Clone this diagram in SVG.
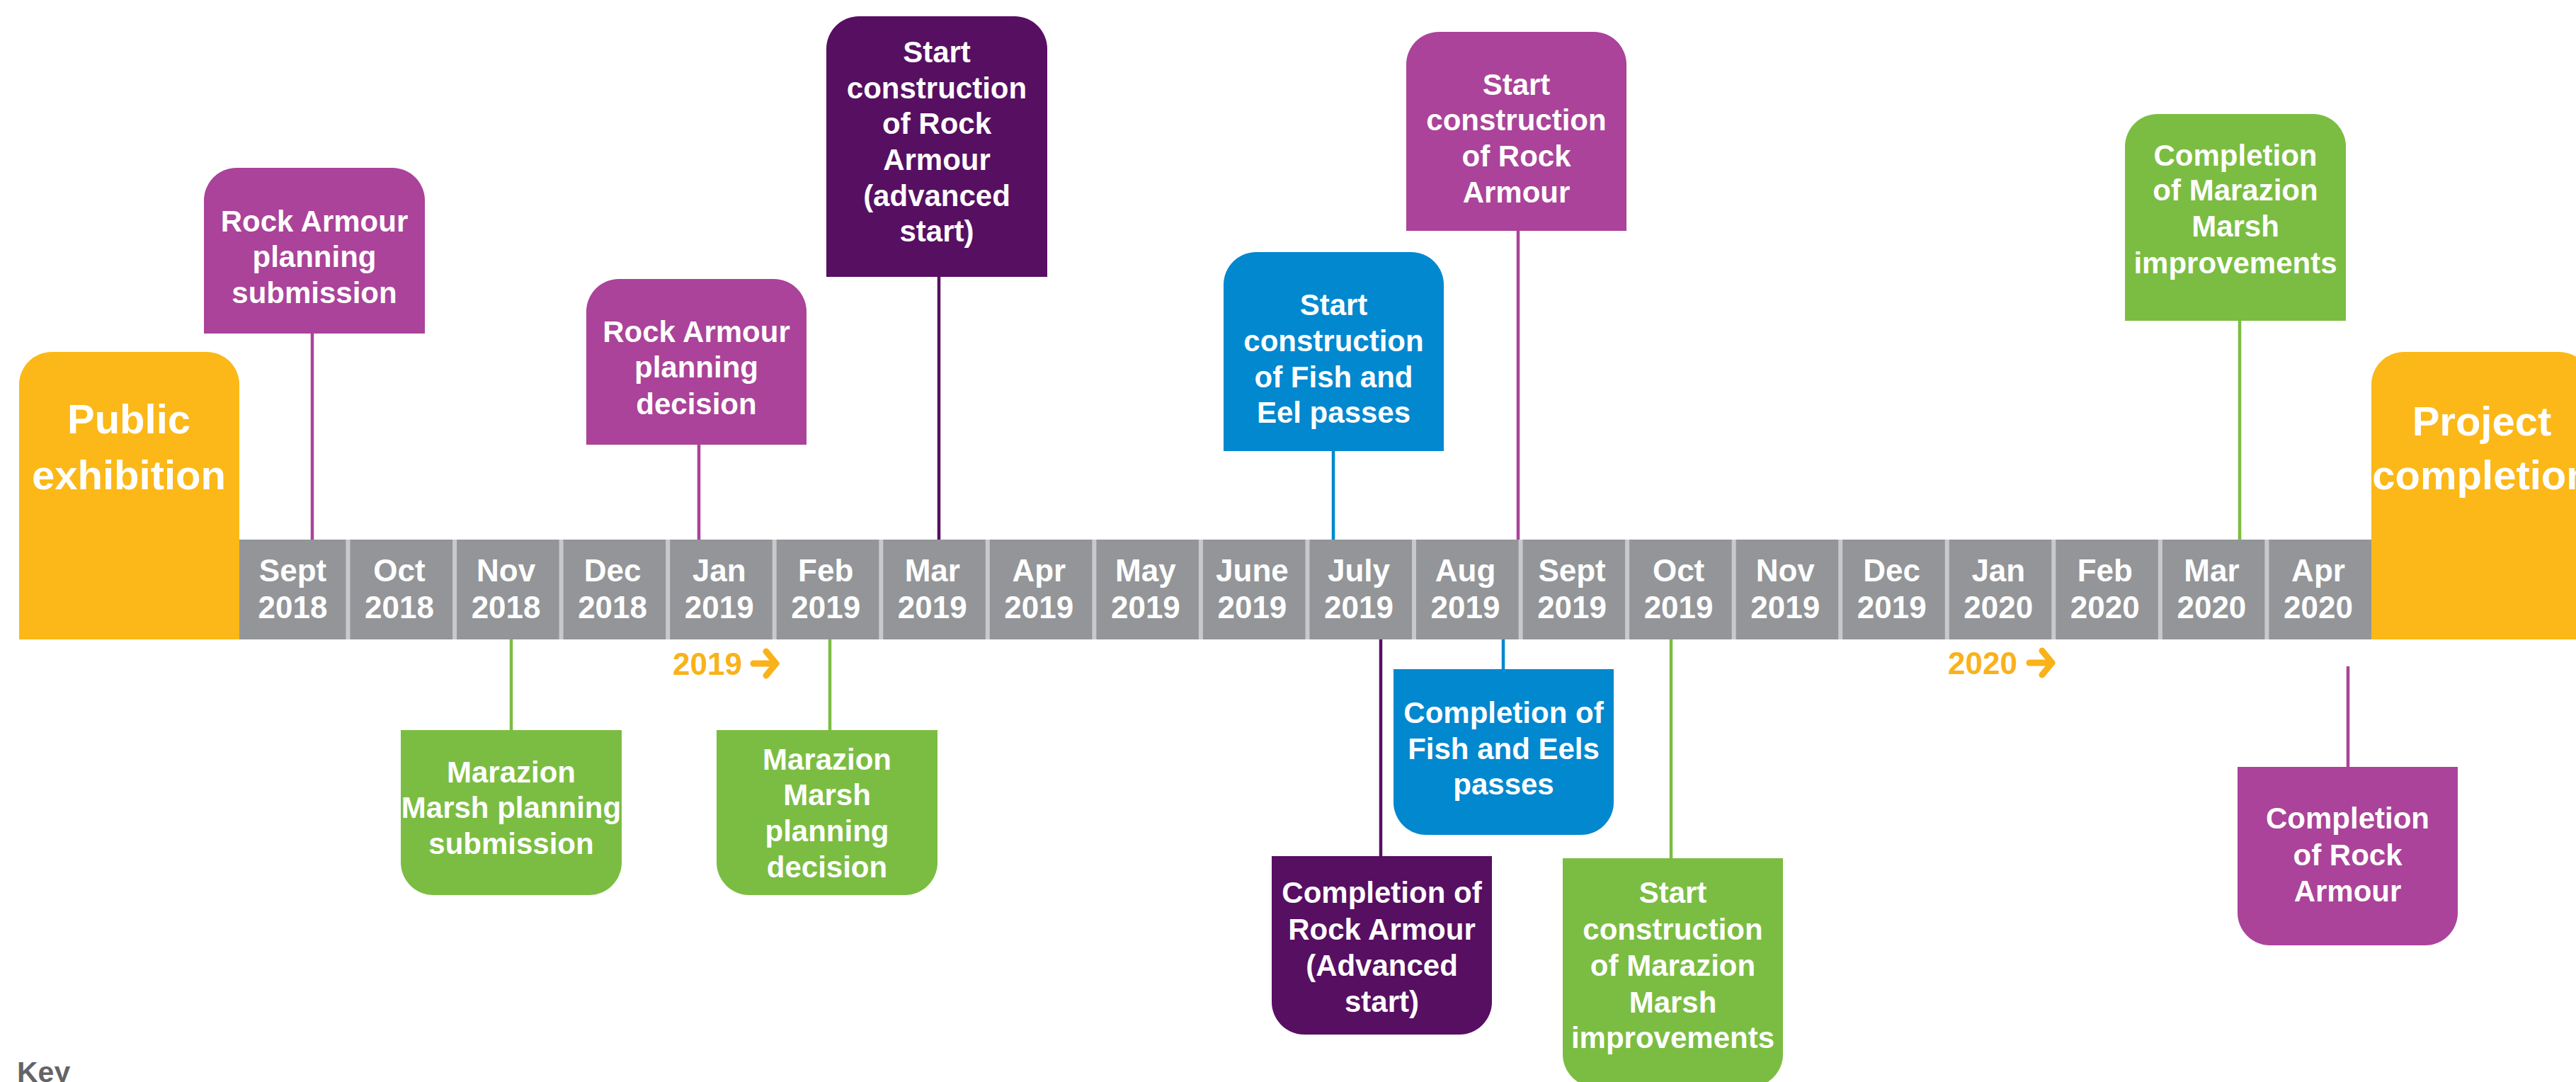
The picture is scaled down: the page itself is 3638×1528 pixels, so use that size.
<svg xmlns="http://www.w3.org/2000/svg" width="3638" height="1528" viewBox="0 0 3638 1528">
<style>
.t{font-family:"Liberation Sans",Arial,sans-serif;font-weight:bold;fill:#fff;text-anchor:middle;font-size:42px}
.big{font-size:58px}
.m{font-size:44px}
.yr{font-family:"Liberation Sans",Arial,sans-serif;font-weight:bold;fill:#F9B21A;font-size:44px}
.key{font-family:"Liberation Sans",Arial,sans-serif;font-weight:bold;fill:#646466;font-size:41px}
.yel{fill:#FBB818}.pink{fill:#AA4399}.dp{fill:#570F62}.blue{fill:#0288CF}.grn{fill:#7BBD42}
.c{stroke-width:4.5;fill:none}
.cp{stroke:#AA4399}.cd{stroke:#570F62}.cb{stroke:#0288CF}.cg{stroke:#7BBD42}
.arr{fill:none;stroke:#F9B21A;stroke-width:9;stroke-linecap:round;stroke-linejoin:round}
</style>
<rect width="3638" height="1528" fill="#fff"/>

<g id="connectors">
<line class="c cp" x1="441" y1="471" x2="441" y2="762"/>
<line class="c cp" x1="987" y1="628" x2="987" y2="762"/>
<line class="c cd" x1="1326" y1="391" x2="1326" y2="762"/>
<line class="c cb" x1="1883" y1="637" x2="1883" y2="762"/>
<line class="c cp" x1="2144" y1="326" x2="2144" y2="762"/>
<line class="c cg" x1="3163" y1="453" x2="3163" y2="762"/>
<line class="c cg" x1="722" y1="903" x2="722" y2="1031"/>
<line class="c cg" x1="1172" y1="903" x2="1172" y2="1031"/>
<line class="c cd" x1="1950" y1="903" x2="1950" y2="1209"/>
<line class="c cb" x1="2123" y1="903" x2="2123" y2="945"/>
<line class="c cg" x1="2360" y1="903" x2="2360" y2="1212"/>
<line class="c cp" x1="3316" y1="941" x2="3316" y2="1083"/>
</g>

<g id="timeline">
<rect x="338" y="762" width="3011" height="141" fill="#939598"/>
<g fill="#C8C9CB">
<rect x="488.5" y="762" width="6" height="141"/>
<rect x="639.1" y="762" width="6" height="141"/>
<rect x="789.6" y="762" width="6" height="141"/>
<rect x="940.2" y="762" width="6" height="141"/>
<rect x="1090.7" y="762" width="6" height="141"/>
<rect x="1241.3" y="762" width="6" height="141"/>
<rect x="1391.8" y="762" width="6" height="141"/>
<rect x="1542.4" y="762" width="6" height="141"/>
<rect x="1692.9" y="762" width="6" height="141"/>
<rect x="1843.5" y="762" width="6" height="141"/>
<rect x="1994" y="762" width="6" height="141"/>
<rect x="2144.6" y="762" width="6" height="141"/>
<rect x="2295.1" y="762" width="6" height="141"/>
<rect x="2445.7" y="762" width="6" height="141"/>
<rect x="2596.2" y="762" width="6" height="141"/>
<rect x="2746.8" y="762" width="6" height="141"/>
<rect x="2897.3" y="762" width="6" height="141"/>
<rect x="3047.9" y="762" width="6" height="141"/>
<rect x="3198.4" y="762" width="6" height="141"/>
</g>
<g class="t m">
<text x="413.5" y="821">Sept</text><text x="413.5" y="873">2018</text>
<text x="564" y="821">Oct</text><text x="564" y="873">2018</text>
<text x="714.6" y="821">Nov</text><text x="714.6" y="873">2018</text>
<text x="865.1" y="821">Dec</text><text x="865.1" y="873">2018</text>
<text x="1015.7" y="821">Jan</text><text x="1015.7" y="873">2019</text>
<text x="1166.2" y="821">Feb</text><text x="1166.2" y="873">2019</text>
<text x="1316.8" y="821">Mar</text><text x="1316.8" y="873">2019</text>
<text x="1467.3" y="821">Apr</text><text x="1467.3" y="873">2019</text>
<text x="1617.9" y="821">May</text><text x="1617.9" y="873">2019</text>
<text x="1768.4" y="821">June</text><text x="1768.4" y="873">2019</text>
<text x="1919" y="821">July</text><text x="1919" y="873">2019</text>
<text x="2069.5" y="821">Aug</text><text x="2069.5" y="873">2019</text>
<text x="2220.1" y="821">Sept</text><text x="2220.1" y="873">2019</text>
<text x="2370.6" y="821">Oct</text><text x="2370.6" y="873">2019</text>
<text x="2521.2" y="821">Nov</text><text x="2521.2" y="873">2019</text>
<text x="2671.7" y="821">Dec</text><text x="2671.7" y="873">2019</text>
<text x="2822.3" y="821">Jan</text><text x="2822.3" y="873">2020</text>
<text x="2972.8" y="821">Feb</text><text x="2972.8" y="873">2020</text>
<text x="3123.4" y="821">Mar</text><text x="3123.4" y="873">2020</text>
<text x="3274" y="821">Apr</text><text x="3274" y="873">2020</text>
</g>
</g>

<g id="year2019">
<text class="yr" x="950" y="953">2019</text>
<path class="arr" d="M1064,937 H1096 M1082,920 L1096,937 L1082,954"/>
</g>
<g id="year2020">
<text class="yr" x="2751" y="952">2020</text>
<path class="arr" d="M2866,936 H2898 M2884,919 L2898,936 L2884,953"/>
</g>

<g id="public-exhibition">
<path class="yel" d="M27,903 V543 A46,46 0 0 1 73,497 H292 A46,46 0 0 1 338,543 V903 Z"/>
<text class="t big" x="182" y="612">Public</text>
<text class="t big" x="182" y="691">exhibition</text>
</g>

<g id="project-completion">
<path class="yel" d="M3349,903 V543 A46,46 0 0 1 3395,497 H3614 A46,46 0 0 1 3660,543 V903 Z"/>
<text class="t big" x="3505" y="615">Project</text>
<text class="t big" x="3505" y="691">completion</text>
</g>

<g id="ra-planning-submission">
<path class="pink" d="M288,471 V283 A46,46 0 0 1 334,237 H554 A46,46 0 0 1 600,283 V471 Z"/>
<text class="t" x="444" y="327">Rock Armour</text>
<text class="t" x="444" y="377">planning</text>
<text class="t" x="444" y="428">submission</text>
</g>

<g id="ra-planning-decision">
<path class="pink" d="M828,628 V440 A46,46 0 0 1 874,394 H1093 A46,46 0 0 1 1139,440 V628 Z"/>
<text class="t" x="983.5" y="483">Rock Armour</text>
<text class="t" x="983.5" y="533">planning</text>
<text class="t" x="983.5" y="585">decision</text>
</g>

<g id="ra-start-advanced">
<path class="dp" d="M1167,391 V69 A46,46 0 0 1 1213,23 H1433 A46,46 0 0 1 1479,69 V391 Z"/>
<text class="t" x="1323" y="88">Start</text>
<text class="t" x="1323" y="139">construction</text>
<text class="t" x="1323" y="189">of Rock</text>
<text class="t" x="1323" y="240">Armour</text>
<text class="t" x="1323" y="291">(advanced</text>
<text class="t" x="1323" y="341">start)</text>
</g>

<g id="fish-eel-start">
<path class="blue" d="M1728,637 V402 A46,46 0 0 1 1774,356 H1993 A46,46 0 0 1 2039,402 V637 Z"/>
<text class="t" x="1883.5" y="445">Start</text>
<text class="t" x="1883.5" y="496">construction</text>
<text class="t" x="1883.5" y="547">of Fish and</text>
<text class="t" x="1883.5" y="597">Eel passes</text>
</g>

<g id="ra-start">
<path class="pink" d="M1986,326 V91 A46,46 0 0 1 2032,45 H2251 A46,46 0 0 1 2297,91 V326 Z"/>
<text class="t" x="2141.5" y="134">Start</text>
<text class="t" x="2141.5" y="184">construction</text>
<text class="t" x="2141.5" y="235">of Rock</text>
<text class="t" x="2141.5" y="286">Armour</text>
</g>

<g id="marsh-completion">
<path class="grn" d="M3001,453 V207 A46,46 0 0 1 3047,161 H3267 A46,46 0 0 1 3313,207 V453 Z"/>
<text class="t" x="3157" y="234">Completion</text>
<text class="t" x="3157" y="283">of Marazion</text>
<text class="t" x="3157" y="334">Marsh</text>
<text class="t" x="3157" y="386">improvements</text>
</g>

<g id="marsh-planning-submission">
<path class="grn" d="M566,1031 H878 V1218 A46,46 0 0 1 832,1264 H612 A46,46 0 0 1 566,1218 Z"/>
<text class="t" x="722" y="1105">Marazion</text>
<text class="t" x="722" y="1155">Marsh planning</text>
<text class="t" x="722" y="1206">submission</text>
</g>

<g id="marsh-planning-decision">
<path class="grn" d="M1012,1031 H1324 V1218 A46,46 0 0 1 1278,1264 H1058 A46,46 0 0 1 1012,1218 Z"/>
<text class="t" x="1168" y="1087">Marazion</text>
<text class="t" x="1168" y="1137">Marsh</text>
<text class="t" x="1168" y="1188">planning</text>
<text class="t" x="1168" y="1239">decision</text>
</g>

<g id="ra-advanced-completion">
<path class="dp" d="M1796,1209 H2107 V1415 A46,46 0 0 1 2061,1461 H1842 A46,46 0 0 1 1796,1415 Z"/>
<text class="t" x="1951.5" y="1275">Completion of</text>
<text class="t" x="1951.5" y="1327">Rock Armour</text>
<text class="t" x="1951.5" y="1378">(Advanced</text>
<text class="t" x="1951.5" y="1429">start)</text>
</g>

<g id="fish-eel-completion">
<path class="blue" d="M1968,945 H2279 V1133 A46,46 0 0 1 2233,1179 H2014 A46,46 0 0 1 1968,1133 Z"/>
<text class="t" x="2123.5" y="1021">Completion of</text>
<text class="t" x="2123.5" y="1072">Fish and Eels</text>
<text class="t" x="2123.5" y="1122">passes</text>
</g>

<g id="marsh-start">
<path class="grn" d="M2207,1212 H2518 V1489 A46,46 0 0 1 2472,1535 H2253 A46,46 0 0 1 2207,1489 Z"/>
<text class="t" x="2362.5" y="1275">Start</text>
<text class="t" x="2362.5" y="1327">construction</text>
<text class="t" x="2362.5" y="1378">of Marazion</text>
<text class="t" x="2362.5" y="1430">Marsh</text>
<text class="t" x="2362.5" y="1480">improvements</text>
</g>

<g id="ra-completion">
<path class="pink" d="M3160,1083 H3471 V1289 A46,46 0 0 1 3425,1335 H3206 A46,46 0 0 1 3160,1289 Z"/>
<text class="t" x="3315.5" y="1170">Completion</text>
<text class="t" x="3315.5" y="1222">of Rock</text>
<text class="t" x="3315.5" y="1273">Armour</text>
</g>

<g id="key">
<text class="key" x="24" y="1528">Key</text>
</g>
</svg>
